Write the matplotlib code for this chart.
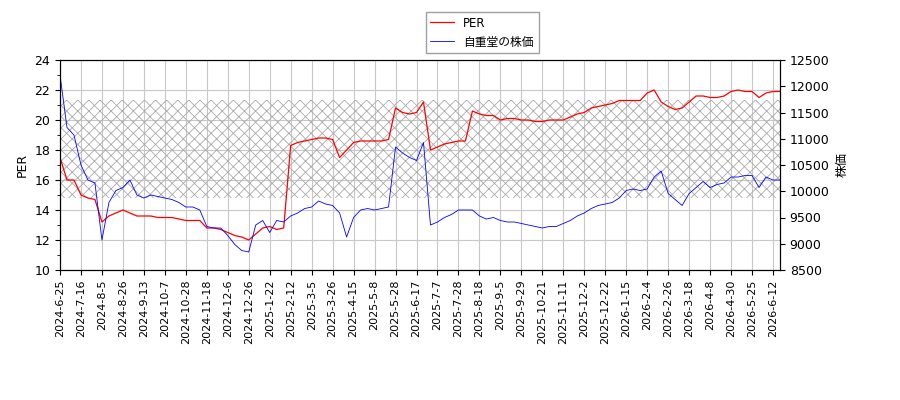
import matplotlib
matplotlib.use("Agg")
import matplotlib.pyplot as plt
import numpy as np

plt.rcParams['font.family'] = ['DejaVu Sans', 'Noto Sans CJK JP']
plt.rcParams['hatch.linewidth'] = 0.6

tick_labels = ["2024-6-25","2024-7-16","2024-8-5","2024-8-26","2024-9-13","2024-10-7","2024-10-28",
"2024-11-18","2024-12-6","2024-12-26","2025-1-22","2025-2-12","2025-3-5","2025-3-26","2025-4-15",
"2025-5-8","2025-5-28","2025-6-17","2025-7-7","2025-7-28","2025-8-18","2025-9-5","2025-9-29",
"2025-10-21","2025-11-11","2025-12-2","2025-12-22","2026-1-15","2026-2-4","2026-2-26","2026-3-18",
"2026-4-8","2026-4-30","2026-5-25","2026-6-12"]

per = [17.5,16,16, 15,14.8,14.7, 13.2,13.6,13.8, 14,13.8,13.6, 13.6,13.6,13.5, 13.5,13.5,13.4,
13.3,13.3,13.3, 12.8,12.8,12.7, 12.5,12.3,12.2, 12.0,12.4,12.8, 12.9,12.7,12.8, 18.3,18.5,18.6,
18.7,18.8,18.8, 18.7,17.5,18.0, 18.5,18.6,18.6, 18.6,18.6,18.7, 20.8,20.5,20.4, 20.5,21.2,18.0,
18.2,18.4,18.5, 18.6,18.6,20.6, 20.4,20.3,20.3, 20.0,20.1,20.1, 20.0,20.0,19.9, 19.9,20.0,20.0,
20.0,20.2,20.4, 20.5,20.8,20.9, 21.0,21.1,21.3, 21.3,21.3,21.3, 21.8,22.0,21.2, 20.9,20.7,20.8,
21.2,21.6,21.6, 21.5,21.5,21.6, 21.9,22.0,21.9, 21.9,21.5,21.8, 21.9,21.9]

price = [12214,11214,11071, 10500,10214,10157, 9071,9786,10014, 10071,10214,9929, 9871,9929,9900,
9871,9843,9786, 9700,9700,9643, 9329,9300,9300, 9157,8986,8871, 8843,9357,9443, 9214,9443,9414,
9529,9586,9671, 9700,9814,9757, 9729,9586,9129, 9500,9643,9671, 9643,9671,9700, 10843,10729,10643,
10586,10929,9357, 9414,9500,9557, 9643,9643,9643, 9529,9471,9500, 9443,9414,9414, 9386,9357,9329,
9300,9329,9329, 9386,9443,9529, 9586,9671,9729, 9757,9786,9871, 10014,10043,10014, 10043,10271,10386,
9957,9843,9729, 9957,10071,10186, 10071,10129,10157, 10271,10271,10300, 10300,10071,10271, 10214,10214]

x = np.arange(len(per)) * 5

fig = plt.figure(figsize=(9, 4), dpi=100)
ax = fig.add_axes([60/900, 130/400, 720/900, 210/400])
ax.axhspan(14.8, 21.35, facecolor='none', edgecolor='#aaaaaa', hatch='xxx', linewidth=0)
l1, = ax.plot(x, per, color='red', lw=0.9, label='PER')
ax.set_ylim(10, 24)
ax.set_xlim(0, 515)
ax.set_yticks(np.arange(10, 25, 2))
ax.set_yticks(np.arange(11, 24, 2), minor=True)
ax.set_xticks(np.arange(len(tick_labels)) * 15)
ax.set_xticklabels(tick_labels, rotation=90, fontsize=8)
ax.tick_params(axis='y', labelsize=9)
ax.grid(True, color='#c8c8c8', lw=0.8)
ax.set_axisbelow(True)
ax.set_ylabel('PER', fontsize=9)

ax2 = ax.twinx()
l2, = ax2.plot(x, price, color='blue', lw=0.6, label='自重堂の株価')
ax2.set_ylim(8500, 12500)
ax2.set_yticks(np.arange(8500, 12501, 500))
ax2.tick_params(axis='y', labelsize=9)
ax2.set_ylabel('株価', fontsize=9)

fig.legend([l1, l2], ['PER', '自重堂の株価'], loc='upper center', bbox_to_anchor=(482/900, 0.985),
           fontsize=8.5, fancybox=False, edgecolor='#888888')
fig.savefig('out.png')
